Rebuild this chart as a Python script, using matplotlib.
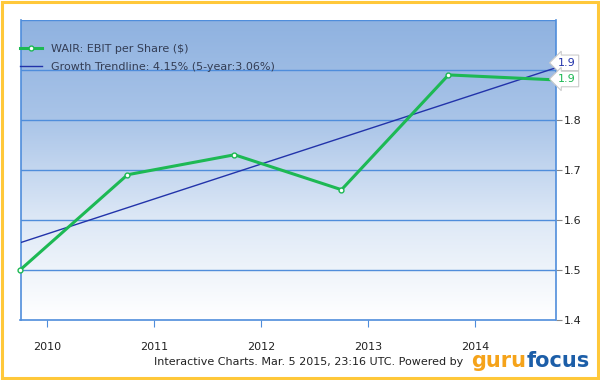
import matplotlib.pyplot as plt
import numpy as np
from matplotlib.colors import LinearSegmentedColormap
from matplotlib.patches import Rectangle

# fiscal year ends (Sept), as fractional years
dates = [2009.75, 2010.75, 2011.75, 2012.75, 2013.75, 2014.75]
ebit_per_share = [1.50, 1.69, 1.73, 1.66, 1.89, 1.88]
trend_start = 1.554
trend_end = 1.904
year_ticks = [2010, 2011, 2012, 2013, 2014]
y_ticks = [1.4, 1.5, 1.6, 1.7, 1.8, 1.9]

green = '#1db954'
navy = '#2233aa'
gridblue = '#4f8ddb'

fig = plt.figure(figsize=(6, 3.8), dpi=100)
fig.patch.set_facecolor('white')

# orange frame round the whole picture
fig.patches.append(Rectangle((0.004, 0.004), 0.992, 0.992, transform=fig.transFigure,
                             fill=False, edgecolor='#ffc83a', linewidth=2.2))

ax = fig.add_axes([20.5 / 600, 1 - 319.5 / 380, 535 / 600, 299.5 / 380])
ax.set_xlim(dates[0], dates[-1])
ax.set_ylim(1.4, 2.0)

# vertical gradient background
cmap = LinearSegmentedColormap.from_list('bg', ['#ffffff', '#dde8f6', '#a9c4e8', '#8fb2e0'])
grad = np.linspace(0, 1, 256).reshape(-1, 1)
ax.imshow(grad, aspect='auto', cmap=cmap, origin='lower',
          extent=[dates[0], dates[-1], 1.4, 2.0], zorder=0)

for v in y_ticks[1:] + [2.0]:
    ax.axhline(v, color=gridblue, linewidth=1, zorder=1)

ax.plot(dates, ebit_per_share, color=green, linewidth=2.2, marker='o', markersize=3.5,
        markerfacecolor='white', markeredgecolor=green, markeredgewidth=1,
        label='WAIR: EBIT per Share ($)', zorder=4, clip_on=False)
ax.plot([dates[0], dates[-1]], [trend_start, trend_end], color=navy, linewidth=1,
        label='Growth Trendline: 4.15% (5-year:3.06%)', zorder=3)

for s in ['left', 'right', 'bottom']:
    ax.spines[s].set_color(gridblue)
    ax.spines[s].set_linewidth(1.2)
ax.spines['top'].set_visible(False)

ax.yaxis.tick_right()
ax.set_yticks(y_ticks)
# the 1.9 label sits under the value callouts
ax.set_yticklabels(['%.1f' % v if v < 1.85 else '' for v in y_ticks], fontsize=8, color='#222222')
ax.tick_params(axis='y', length=4, color='#888888', pad=2)
ax.set_xticks(year_ticks)
ax.set_xticklabels([str(y) for y in year_ticks], fontsize=8, color='#222222')
ax.tick_params(axis='x', length=5, color=gridblue, pad=11)

leg = ax.legend(loc='upper left', bbox_to_anchor=(-0.01, 0.935), frameon=False,
                fontsize=8, handlelength=2, labelspacing=0.75, borderaxespad=0)
for t in leg.get_texts():
    t.set_color('#333d55')

# value callouts at right edge
box = dict(boxstyle='larrow,pad=0.25', facecolor='white', edgecolor='#cccccc', linewidth=0.8)
ax.text(1.005, 0.857, '1.9', transform=ax.transAxes, fontsize=8, color=navy,
        va='center', ha='left', bbox=box, zorder=6)
ax.text(1.005, 0.803, '1.9', transform=ax.transAxes, fontsize=8, color=green,
        va='center', ha='left', bbox=box, zorder=6)

fig.text(309 / 600, 1 - 362 / 380, 'Interactive Charts. Mar. 5 2015, 23:16 UTC. Powered by',
         fontsize=8, color='#222222', ha='center', va='center')
fig.text(526 / 600, 1 - 361 / 380, 'guru', fontsize=15, color='#f5a31a', fontweight='bold',
         ha='right', va='center', family='Liberation Sans Narrow')
fig.text(527 / 600, 1 - 361 / 380, 'focus', fontsize=15, color='#1c5ea8', fontweight='bold',
         ha='left', va='center', family='Liberation Sans Narrow')

fig.savefig('out.png', dpi=100)
